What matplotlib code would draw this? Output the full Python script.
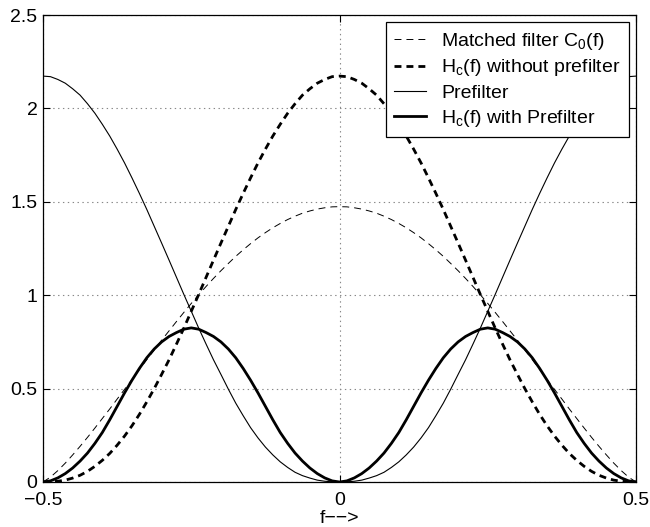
import matplotlib
matplotlib.use('Agg')
import matplotlib.pyplot as plt

plt.rcParams['font.family'] = ['Liberation Sans', 'DejaVu Sans']
plt.rcParams['mathtext.fontset'] = 'custom'
plt.rcParams['mathtext.rm'] = 'Liberation Sans'
plt.rcParams['mathtext.it'] = 'Liberation Sans:italic'
plt.rcParams['lines.scale_dashes'] = False

freq = [-0.5, -0.4875, -0.475, -0.4625, -0.45, -0.4375, -0.425, -0.4125, -0.4, -0.3875,
        -0.375, -0.3625, -0.35, -0.3375, -0.325, -0.3125, -0.3, -0.2875, -0.275, -0.2625,
        -0.25, -0.2375, -0.225, -0.2125, -0.2, -0.1875, -0.175, -0.1625, -0.15, -0.1375,
        -0.125, -0.1125, -0.1, -0.0875, -0.075, -0.0625, -0.05, -0.0375, -0.025, -0.0125,
        0.0, 0.0125, 0.025, 0.0375, 0.05, 0.0625, 0.075, 0.0875, 0.1, 0.1125,
        0.125, 0.1375, 0.15, 0.1625, 0.175, 0.1875, 0.2, 0.2125, 0.225, 0.2375,
        0.25, 0.2625, 0.275, 0.2875, 0.3, 0.3125, 0.325, 0.3375, 0.35, 0.3625,
        0.375, 0.3875, 0.4, 0.4125, 0.425, 0.4375, 0.45, 0.4625, 0.475, 0.4875, 0.5]

matched_filter = [0.0, 0.026, 0.061, 0.101, 0.145, 0.191, 0.239, 0.289, 0.340, 0.391,
                  0.444, 0.496, 0.549, 0.602, 0.655, 0.707, 0.759, 0.809, 0.859, 0.908,
                  0.956, 1.002, 1.047, 1.090, 1.131, 1.170, 1.208, 1.243, 1.276, 1.307,
                  1.335, 1.361, 1.384, 1.405, 1.423, 1.439, 1.451, 1.461, 1.468, 1.473,
                  1.474, 1.473, 1.468, 1.461, 1.451, 1.439, 1.423, 1.405, 1.384, 1.361,
                  1.335, 1.307, 1.276, 1.243, 1.208, 1.170, 1.131, 1.090, 1.047, 1.002,
                  0.956, 0.908, 0.859, 0.809, 0.759, 0.707, 0.655, 0.602, 0.549, 0.496,
                  0.444, 0.391, 0.340, 0.289, 0.239, 0.191, 0.145, 0.101, 0.061, 0.026, 0.0]

hc_without = [0.0, 0.001, 0.004, 0.010, 0.021, 0.036, 0.057, 0.084, 0.116, 0.153,
              0.197, 0.246, 0.301, 0.362, 0.429, 0.500, 0.576, 0.654, 0.738, 0.824,
              0.914, 1.004, 1.096, 1.188, 1.279, 1.369, 1.459, 1.545, 1.628, 1.708,
              1.782, 1.852, 1.915, 1.974, 2.025, 2.071, 2.105, 2.135, 2.155, 2.170,
              2.173, 2.170, 2.155, 2.135, 2.105, 2.071, 2.025, 1.974, 1.915, 1.852,
              1.782, 1.708, 1.628, 1.545, 1.459, 1.369, 1.279, 1.188, 1.096, 1.004,
              0.914, 0.824, 0.738, 0.654, 0.576, 0.500, 0.429, 0.362, 0.301, 0.246,
              0.197, 0.153, 0.116, 0.084, 0.057, 0.036, 0.021, 0.010, 0.004, 0.001, 0.0]

prefilter = [2.173, 2.170, 2.155, 2.135, 2.105, 2.071, 2.025, 1.974, 1.915, 1.852,
             1.782, 1.708, 1.628, 1.545, 1.459, 1.369, 1.279, 1.188, 1.096, 1.004,
             0.914, 0.824, 0.738, 0.654, 0.576, 0.497, 0.422, 0.355, 0.291, 0.236,
             0.187, 0.145, 0.108, 0.078, 0.052, 0.034, 0.021, 0.010, 0.004, 0.001,
             0.0, 0.001, 0.004, 0.010, 0.021, 0.034, 0.052, 0.078, 0.108, 0.145,
             0.187, 0.236, 0.291, 0.355, 0.422, 0.497, 0.576, 0.654, 0.738, 0.824,
             0.914, 1.004, 1.096, 1.188, 1.279, 1.369, 1.459, 1.545, 1.628, 1.708,
             1.782, 1.852, 1.915, 1.974, 2.025, 2.071, 2.105, 2.135, 2.155, 2.170, 2.173]

hc_with = [0.0, 0.006, 0.022, 0.045, 0.075, 0.112, 0.155, 0.207, 0.265, 0.333,
           0.405, 0.477, 0.545, 0.608, 0.665, 0.712, 0.750, 0.779, 0.800, 0.818,
           0.825, 0.818, 0.800, 0.779, 0.750, 0.712, 0.665, 0.608, 0.545, 0.477,
           0.405, 0.333, 0.265, 0.207, 0.155, 0.112, 0.075, 0.045, 0.022, 0.006,
           0.0, 0.006, 0.022, 0.045, 0.075, 0.112, 0.155, 0.207, 0.265, 0.333,
           0.405, 0.477, 0.545, 0.608, 0.665, 0.712, 0.750, 0.779, 0.800, 0.818,
           0.825, 0.818, 0.800, 0.779, 0.750, 0.712, 0.665, 0.608, 0.545, 0.477,
           0.405, 0.333, 0.265, 0.207, 0.155, 0.112, 0.075, 0.045, 0.022, 0.006, 0.0]

labels = [r'Matched filter $\mathregular{C_0}$(f)',
          r'$\mathregular{H_c}$(f) without prefilter',
          'Prefilter',
          r'$\mathregular{H_c}$(f) with Prefilter']

xticks = [-0.5, 0, 0.5]
xticklabels = ['\u22120.5', '0', '0.5']
yticks = [0, 0.5, 1, 1.5, 2, 2.5]
yticklabels = ['0', '0.5', '1', '1.5', '2', '2.5']
xlabel = 'f\u2212\u2212>'

fig = plt.figure(figsize=(6.5, 5.27), dpi=100)
ax = fig.add_axes([0.0662, 0.0854, 0.9123, 0.8861])

ax.plot(freq, matched_filter, color='black', lw=0.7, linestyle=(0, (5, 3.6)), label=labels[0])
ax.plot(freq, hc_without, color='black', lw=2.0, linestyle=(0, (5, 3.6)), label=labels[1])
ax.plot(freq, prefilter, color='black', lw=0.8, linestyle='-', label=labels[2])
ax.plot(freq, hc_with, color='black', lw=2.0, linestyle='-', label=labels[3])

ax.set_xlim(-0.5, 0.5)
ax.set_ylim(0, 2.5)
ax.set_xticks(xticks)
ax.set_xticklabels(xticklabels)
ax.set_yticks(yticks)
ax.set_yticklabels(yticklabels)
ax.tick_params(direction='in', top=True, right=True, length=5, width=0.8,
               labelsize=14, color='black')
ax.tick_params(axis='x', pad=7)
ax.tick_params(axis='y', pad=4)
ax.grid(True, color='#888888', linestyle=(0, (1, 2.5)), lw=0.8)
ax.set_axisbelow(True)
for s in ax.spines.values():
    s.set_linewidth(0.9)
    s.set_color('black')

ax.set_xlabel(xlabel, fontsize=14, labelpad=1)

leg = ax.legend(loc='upper right', fontsize=14, fancybox=False, framealpha=1,
                edgecolor='black', borderaxespad=0.35, handlelength=1.65,
                labelspacing=0.3, borderpad=0.45, handletextpad=0.75)
leg.get_frame().set_linewidth(0.9)

fig.savefig('out.png', dpi=100)
